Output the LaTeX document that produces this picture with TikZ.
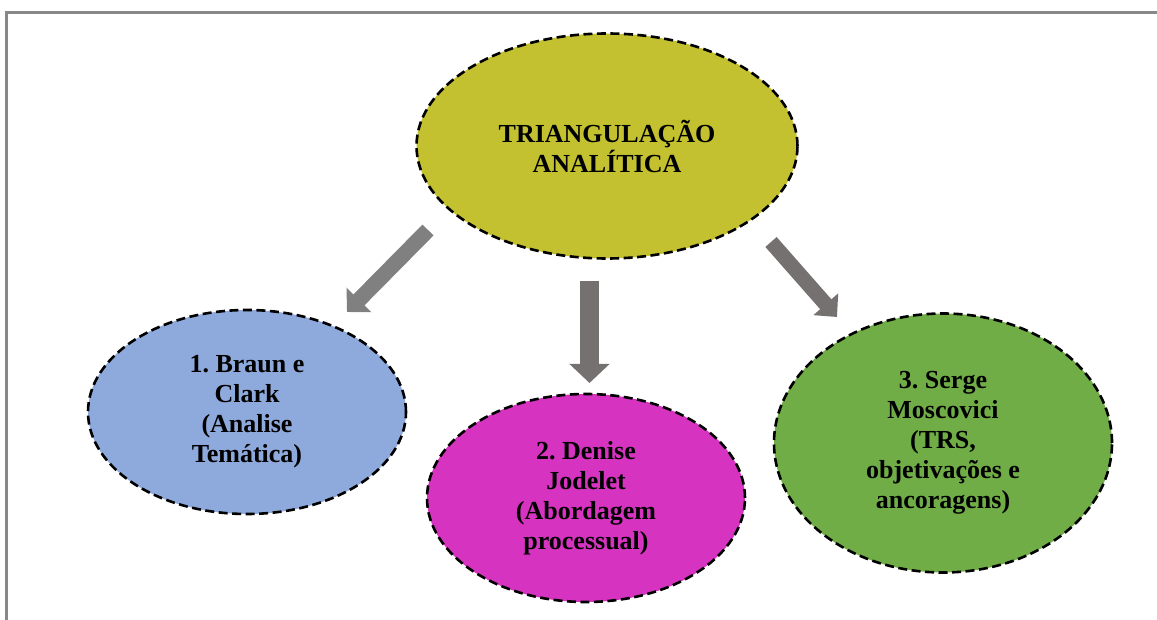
\documentclass[tikz,border=0pt]{standalone}
\usepackage{fontspec}
\setmainfont{Liberation Serif}
\usetikzlibrary{shapes.geometric,arrows.meta}
\definecolor{topc}{RGB}{195,193,48}
\definecolor{bluec}{RGB}{142,169,219}
\definecolor{magc}{RGB}{214,52,192}
\definecolor{greenc}{RGB}{112,173,71}
\definecolor{arrA}{RGB}{128,128,128}
\definecolor{arrB}{RGB}{118,113,113}
\definecolor{framec}{RGB}{136,136,136}
\frenchspacing
\tikzset{
  oval/.style={ellipse, draw=black, line width=2.6pt, dash pattern=on 9pt off 4.5pt,
    inner sep=0pt, align=center, font=\bfseries\fontsize{26}{30}\selectfont},
}
\begin{document}
\begin{tikzpicture}[x=1pt,y=-1pt]
\useasboundingbox (0,0) rectangle (1157,620);
\fill[white] (0,0) rectangle (1157,620);
\draw[framec, line width=3pt] (1160,12.5) -- (6,12.5) -- (6,625);

\node[oval, fill=topc, minimum width=381pt, minimum height=225pt] (top) at (607,146)
  {TRIANGULAÇÃO\\ANALÍTICA};
\node[oval, fill=bluec, minimum width=318pt, minimum height=204pt] (braun) at (247,412)
  {1. Braun e\\Clark\\(Analise\\Temática)};
\node[oval, fill=magc, minimum width=318pt, minimum height=208pt] (jodelet) at (586,498)
  {2. Denise\\Jodelet\\(Abordagem\\processual)};
\node[oval, fill=greenc, minimum width=338pt, minimum height=259pt] (serge) at (943,443)
  {3. Serge\\Moscovici\\(TRS,\\objetivações e\\ancoragens)};

\coordinate (a1s) at (428,230);
\coordinate (a1e) at (347,312);
\coordinate (a2s) at (589.5,281);
\coordinate (a2e) at (589.5,383);
\coordinate (a3s) at (771,242);
\coordinate (a3e) at (837,317);

\draw[arrA, line width=15.5pt, -{Triangle[length=17pt,width=34pt]}] (a1s) -- (a1e);
\draw[arrB, line width=19pt, -{Triangle[length=19pt,width=39pt]}] (a2s) -- (a2e);
\draw[arrB, line width=15pt, -{Triangle[length=17pt,width=32pt]}] (a3s) -- (a3e);
\end{tikzpicture}
\end{document}
